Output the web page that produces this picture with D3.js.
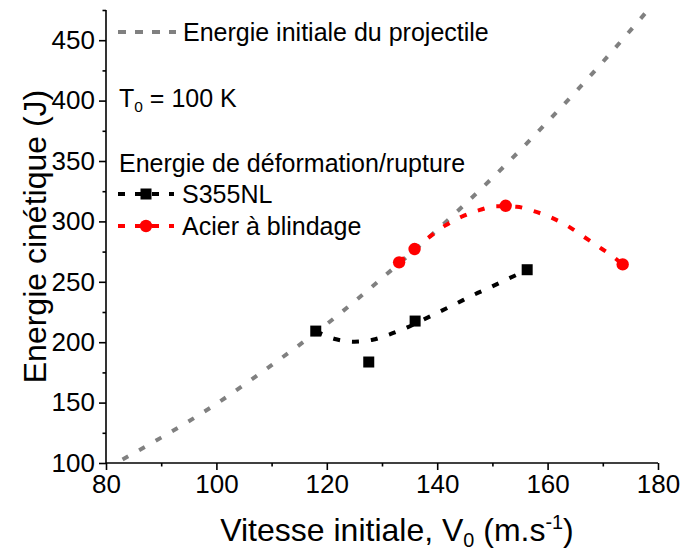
<!DOCTYPE html>
<html>
<head>
<meta charset="utf-8">
<script src="https://cdn.jsdelivr.net/npm/d3@7"></script>
<style>
  html, body { margin: 0; padding: 0; background: #fff; }
  svg { display: block; }
  text { font-family: "Liberation Sans", Arial, sans-serif; fill: #000; }
</style>
</head>
<body>
<svg id="chart" width="681" height="555"></svg>
<script>
// ---- data ----
const xTickValues = [80, 100, 120, 140, 160, 180];
const xMinorTicks = [90, 110, 130, 150, 170];
const yTickValues = [100, 150, 200, 250, 300, 350, 400, 450];
const yMinorTicks = [125, 175, 225, 275, 325, 375, 425, 475];

// initial kinetic energy of the projectile (grey dotted curve)
const projectileV = [83, 90, 100, 110, 120, 130, 140, 150, 160, 170, 178];
const projectileE = [103, 121, 149, 181, 215, 253, 293, 336, 382.5, 432, 474];

// S355NL measured points
const s355V = [118.0, 127.6, 136.0, 156.3];
const s355E = [209.2, 183.6, 217.5, 260.0];
// S355NL fitted curve
const s355FitV = [118.0, 121.7, 125.0, 128.3, 131.4, 134.6, 137.6, 140.7, 143.5, 146.5, 149.7, 152.7, 156.3];
const s355FitE = [209.2, 202.4, 200.4, 202.0, 206.5, 212.3, 218.9, 225.8, 232.1, 239.0, 245.6, 252.2, 259.7];

// Acier a blindage measured points
const armorV = [133.1, 135.9, 152.4, 173.6];
const armorE = [266.1, 277.1, 312.9, 264.4];
// Acier a blindage fitted curve
const armorFitV = [133.1, 135.9, 138.6, 141.5, 144.4, 147.6, 150.8, 154.4, 157.5, 160.6, 163.6, 166.3, 169.1, 171.9, 173.6];
const armorFitE = [266.1, 277.1, 287.2, 296.7, 303.8, 309.3, 312.6, 312.1, 308.5, 303.3, 296.3, 288.1, 279.5, 270.7, 264.4];

const zip = (a, b) => a.map((v, i) => [v, b[i]]);

// ---- layout ----
const svg = d3.select("#chart");
const pLeft = 106, pRight = 658, pTop = 10, pBottom = 463;
const x = d3.scaleLinear().domain([80, 180]).range([pLeft, pRight]);
const y = d3.scaleLinear().domain([100, 475]).range([pBottom, pTop]);

const FONT_TICK = 26, FONT_TITLE = 32, FONT_LEG = 25;

// ---- axes ----
const gx = svg.append("g").attr("transform", `translate(0,${pBottom})`);
gx.call(d3.axisBottom(x).tickValues(xTickValues).tickSize(7).tickPadding(5).tickFormat(d3.format("d")));
const gxm = gx.append("g").call(d3.axisBottom(x).tickValues(xMinorTicks).tickSize(3.5).tickFormat(""));
const gy = svg.append("g").attr("transform", `translate(${pLeft},0)`);
gy.call(d3.axisLeft(y).tickValues(yTickValues).tickSize(7).tickPadding(4).tickFormat(d3.format("d")));
const gym = gy.append("g").call(d3.axisLeft(y).tickValues(yMinorTicks).tickSize(3.5).tickFormat(""));

gxm.selectAll(".domain").remove();
gym.selectAll(".domain").remove();
svg.selectAll(".domain").attr("stroke", "#000").attr("stroke-width", 1.6);
svg.selectAll(".tick line").attr("stroke", "#000").attr("stroke-width", 1.6);
svg.selectAll(".tick text").attr("font-size", FONT_TICK).attr("font-family", '"Liberation Sans", Arial, sans-serif').attr("fill", "#000");
gx.select(".domain").attr("d", `M${pLeft},0H${pRight}`);
gy.select(".domain").attr("d", `M0,${pBottom}V${pTop}`);

// axis titles
svg.append("text")
  .attr("transform", `translate(46,${(pTop + pBottom) / 2}) rotate(-90)`)
  .attr("text-anchor", "middle").attr("font-size", FONT_TITLE)
  .text("Energie cinétique (J)");

const xt = svg.append("text")
  .attr("x", 397).attr("y", 541)
  .attr("text-anchor", "middle").attr("font-size", FONT_TITLE);
xt.append("tspan").text("Vitesse initiale, V");
xt.append("tspan").attr("font-size", FONT_TITLE * 0.62).attr("dy", 6).text("0");
xt.append("tspan").attr("dy", -6).text(" (m.s");
xt.append("tspan").attr("font-size", FONT_TITLE * 0.62).attr("dy", -12).text("-1");
xt.append("tspan").attr("dy", 12).text(")");

// ---- curves ----
const line = d3.line().x(d => x(d[0])).y(d => y(d[1])).curve(d3.curveMonotoneX);

svg.append("path").datum(zip(projectileV, projectileE))
  .attr("d", line).attr("fill", "none").attr("stroke", "#808080")
  .attr("stroke-width", 4).attr("stroke-dasharray", "6.5,12.5");

svg.append("path").datum(zip(s355FitV, s355FitE))
  .attr("d", line).attr("fill", "none").attr("stroke", "#000")
  .attr("stroke-width", 4).attr("stroke-dasharray", "7,12");

svg.append("path").datum(zip(armorFitV, armorFitE))
  .attr("d", line).attr("fill", "none").attr("stroke", "#ff0000")
  .attr("stroke-width", 4).attr("stroke-dasharray", "7,12");

// markers
const SQ = 11;
svg.append("g").selectAll("rect").data(zip(s355V, s355E)).join("rect")
  .attr("x", d => x(d[0]) - SQ / 2).attr("y", d => y(d[1]) - SQ / 2)
  .attr("width", SQ).attr("height", SQ).attr("fill", "#000");

svg.append("g").selectAll("circle").data(zip(armorV, armorE)).join("circle")
  .attr("cx", d => x(d[0])).attr("cy", d => y(d[1])).attr("r", 6.2).attr("fill", "#ff0000");

// ---- legend ----
const lg = svg.append("g");
lg.append("line").attr("x1", 118).attr("x2", 176).attr("y1", 32).attr("y2", 32)
  .attr("stroke", "#808080").attr("stroke-width", 4).attr("stroke-dasharray", "8,9");
lg.append("text").attr("x", 183).attr("y", 41).attr("font-size", FONT_LEG).text("Energie initiale du projectile");

const t0 = lg.append("text").attr("x", 119).attr("y", 107).attr("font-size", FONT_LEG);
t0.append("tspan").text("T");
t0.append("tspan").attr("font-size", FONT_LEG * 0.62).attr("dy", 5).text("0");
t0.append("tspan").attr("dy", -5).text(" = 100 K");

lg.append("text").attr("x", 119).attr("y", 172).attr("font-size", FONT_LEG).text("Energie de déformation/rupture");

lg.append("line").attr("x1", 118).attr("x2", 174).attr("y1", 194).attr("y2", 194)
  .attr("stroke", "#000").attr("stroke-width", 4).attr("stroke-dasharray", "7,10");
lg.append("rect").attr("x", 146 - SQ / 2).attr("y", 194 - SQ / 2).attr("width", SQ).attr("height", SQ).attr("fill", "#000");
lg.append("text").attr("x", 182).attr("y", 203).attr("font-size", FONT_LEG).text("S355NL");

lg.append("line").attr("x1", 118).attr("x2", 174).attr("y1", 226).attr("y2", 226)
  .attr("stroke", "#ff0000").attr("stroke-width", 4).attr("stroke-dasharray", "7,10");
lg.append("circle").attr("cx", 146).attr("cy", 226).attr("r", 6.2).attr("fill", "#ff0000");
lg.append("text").attr("x", 182).attr("y", 235).attr("font-size", FONT_LEG).text("Acier à blindage");
</script>
</body>
</html>
